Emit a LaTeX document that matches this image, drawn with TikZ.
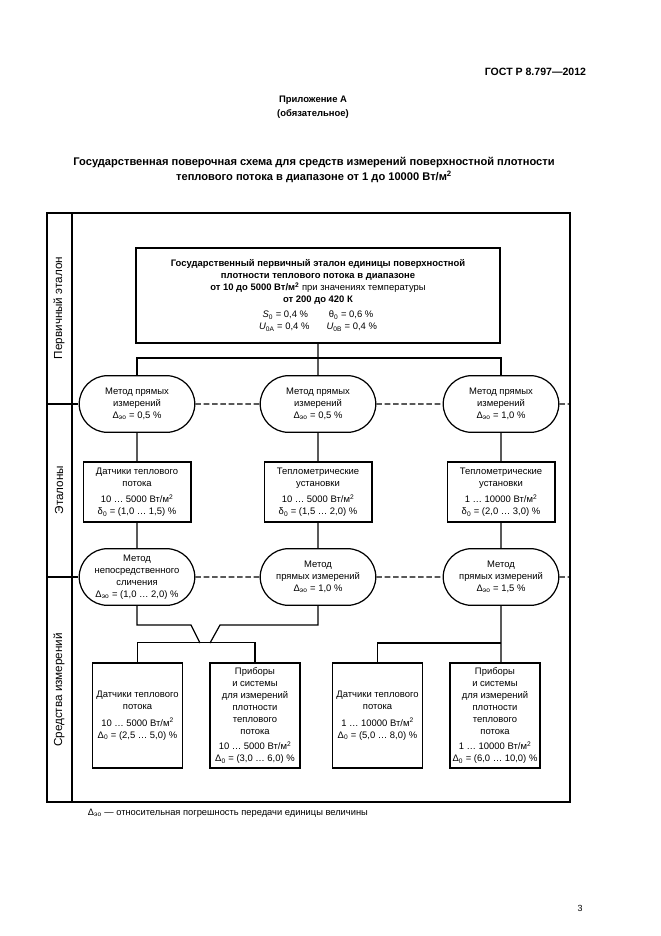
\documentclass[tikz,border=0pt]{standalone}
\usepackage{fontspec}
\setmainfont{Liberation Sans}
\usetikzlibrary{shapes.misc}

\newcommand\boxfont{\fontsize{8.5}{10.8}\selectfont}
\newcommand\lowi[1]{\textsubscript{#1}}
\newcommand\sqm{Вт/м\textsuperscript{2}}

\tikzset{
  frame/.style={line width=1.1pt},
  link/.style={line width=1.1pt},
  sepline/.style={line width=1.1pt, dash pattern=on 5pt off 2.5pt},
  methodnode/.style={draw, line width=1.1pt, rounded rectangle, align=center,
    minimum width=106pt, minimum height=51pt, inner sep=1pt, font=\boxfont},
  stdbox/.style={draw, line width=1.1pt, align=center, minimum width=97pt,
    minimum height=54pt, inner sep=1pt, font=\boxfont},
  toolbox/.style={draw, line width=1.1pt, align=center, minimum width=81pt,
    minimum height=94.5pt, inner sep=0.5pt, font=\boxfont},
  sidelabel/.style={rotate=90, font=\fontsize{10.5}{12}\selectfont}
}

\begin{document}
\begin{tikzpicture}[x=0.9pt, y=-0.9pt]
\useasboundingbox (0,0) rectangle (661,936);

% Page header
\node[anchor=east, font=\bfseries\fontsize{9.5}{11}\selectfont] (gost) at (590,72) {ГОСТ Р 8.797—2012};
\node[align=center, font=\bfseries\fontsize{8.5}{12.5}\selectfont] (annex) at (313,107) {Приложение А\\(обязательное)};
\node[align=center, font=\bfseries\fontsize{10}{13.5}\selectfont] (title) at (314,170)
  {Государственная поверочная схема для средств измерений поверхностной плотности\\
   теплового потока в диапазоне от 1 до 10000 \sqm};

% Frame and left column
\draw[frame] (47,213) rectangle (570,802);
\draw[frame] (72,213) -- (72,802);
\draw[frame] (47,404) -- (72,404);
\draw[frame] (47,577) -- (72,577);
\node[sidelabel] (lblprim) at (59,308) {Первичный эталон};
\node[sidelabel] (lblstd) at (59,490) {Эталоны};
\node[sidelabel] (lbltool) at (59,690) {Средства измерений};

% Primary standard
\node[draw, line width=2pt, align=center, minimum width=327pt, minimum height=85.5pt,
  font=\fontsize{8.5}{10.8}\selectfont] (etalon) at (318,295.5)
  {\textbf{Государственный первичный эталон единицы поверхностной}\\
   \textbf{плотности теплового потока в диапазоне}\\
   \textbf{от 10 до 5000 \sqm} при значениях температуры\\
   \textbf{от 200 до 420 К}\\[3pt]
   \textit{S}\lowi{0} = 0,4 \%\hspace{2.2em}θ\lowi{0} = 0,6 \%\\
   \textit{U}\lowi{0A} = 0,4 \%\hspace{1.8em}\textit{U}\lowi{0B} = 0,4 \%};

% Methods, first row
\node[methodnode] (m1a) at (137,404) {Метод прямых\\измерений\\Δ\lowi{эо} = 0,5 \%};
\node[methodnode] (m1b) at (318,404) {Метод прямых\\измерений\\Δ\lowi{эо} = 0,5 \%};
\node[methodnode] (m1c) at (501,404) {Метод прямых\\измерений\\Δ\lowi{эо} = 1,0 \%};

% Working standards
\node[stdbox] (e1) at (137,492) {Датчики теплового\\потока\\[4pt]10 … 5000 \sqm\\δ\lowi{0} = (1,0 … 1,5) \%};
\node[stdbox] (e2) at (318,492) {Теплометрические\\установки\\[4pt]10 … 5000 \sqm\\δ\lowi{0} = (1,5 … 2,0) \%};
\node[stdbox] (e3) at (501,492) {Теплометрические\\установки\\[4pt]1 … 10000 \sqm\\δ\lowi{0} = (2,0 … 3,0) \%};

% Methods, second row
\node[methodnode] (m2a) at (137,577) {Метод\\непосредственного\\сличения\\Δ\lowi{эо} = (1,0 … 2,0) \%};
\node[methodnode] (m2b) at (318,577) {Метод\\прямых измерений\\Δ\lowi{эо} = 1,0 \%};
\node[methodnode] (m2c) at (501,577) {Метод\\прямых измерений\\Δ\lowi{эо} = 1,5 \%};

% Measuring instruments
\node[toolbox] (s1) at (137.5,715.5) {Датчики теплового\\потока\\[4pt]10 … 5000 \sqm\\Δ\lowi{0} = (2,5 … 5,0) \%};
\node[toolbox] (s2) at (255,715.5) {Приборы\\и системы\\для измерений\\плотности\\теплового\\потока\\[3pt]10 … 5000 \sqm\\Δ\lowi{0} = (3,0 … 6,0) \%};
\node[toolbox] (s3) at (377.5,715.5) {Датчики теплового\\потока\\[4pt]1 … 10000 \sqm\\Δ\lowi{0} = (5,0 … 8,0) \%};
\node[toolbox] (s4) at (495,715.5) {Приборы\\и системы\\для измерений\\плотности\\теплового\\потока\\[3pt]1 … 10000 \sqm\\Δ\lowi{0} = (6,0 … 10,0) \%};

% Section separators
\coordinate (lim1) at (72,404);
\coordinate (rim1) at (570,404);
\coordinate (lim2) at (72,577);
\coordinate (rim2) at (570,577);
\draw[sepline] (lim1) -- (m1a);
\draw[sepline] (m1a) -- (m1b);
\draw[sepline] (m1b) -- (m1c);
\draw[sepline] (m1c) -- (rim1);
\draw[sepline] (lim2) -- (m2a);
\draw[sepline] (m2a) -- (m2b);
\draw[sepline] (m2b) -- (m2c);
\draw[sepline] (m2c) -- (rim2);

% Connectors
\coordinate (bar) at (318,358);
\draw[link] (etalon) -- (m1b);
\draw[link] (m1a) |- (bar) -| (m1c);
\draw[link] (m1a) -- (e1);
\draw[link] (m1b) -- (e2);
\draw[link] (m1c) -- (e3);
\draw[link] (e1) -- (m2a);
\draw[link] (e2) -- (m2b);
\draw[link] (e3) -- (m2c);

% Funnel to the left group
\coordinate (fl) at (191,625);
\coordinate (fr) at (220,625);
\coordinate (fbl) at (200,643);
\coordinate (fbr) at (210,643);
\draw[link] (m2a) |- (fl) -- (fbl);
\draw[link] (m2b) |- (fr) -- (fbr);
\draw[link] (s1.north) -- ++(0,-20) -| (s2.north);

% Right group
\draw[link] (m2c) -- (m2c.south |- s4.north);
\draw[link] (s3.north) |- (m2c.south |- fbl);

% Footnote and page number
\node[anchor=west, font=\fontsize{8.4}{10}\selectfont] (note) at (84,813) {Δ\lowi{эо} — относительная погрешность передачи единицы величины};
\node[font=\fontsize{8}{10}\selectfont] (pg) at (580,908) {3};

\end{tikzpicture}
\end{document}
